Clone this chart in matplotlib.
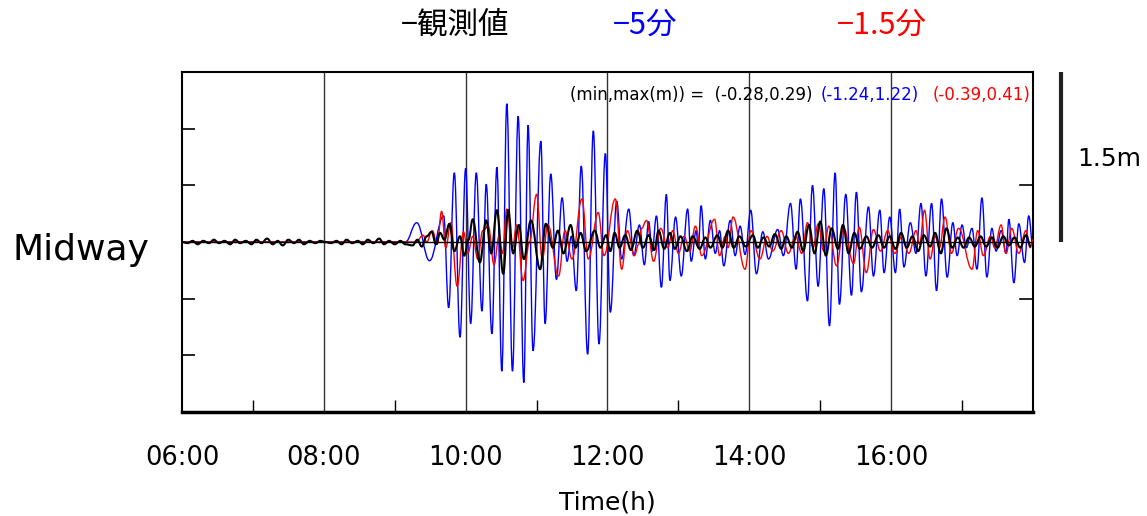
import matplotlib
matplotlib.use("Agg")
import matplotlib.pyplot as plt
from matplotlib.path import Path
from matplotlib.patches import PathPatch

# ---------------- data (time in hours, value in m) ----------------
station = "Midway"
legend_labels = ["−観測値", "−5分", "−1.5分"]
legend_colors = ["black", "#0000ff", "#ff0000"]
minmax_obs = (-0.28, 0.29)
minmax_5 = (-1.24, 1.22)
minmax_15 = (-0.39, 0.41)
xtick_hours = [6, 8, 10, 12, 14, 16]
xtick_labels = ["06:00", "08:00", "10:00", "12:00", "14:00", "16:00"]

obs_t = [6.0, 6.08, 6.15, 6.22, 6.3, 6.38, 6.45, 6.52, 6.6, 6.68, 6.75, 6.82, 6.9, 6.98,
         7.05, 7.12, 7.2, 7.28, 7.35, 7.42, 7.5, 7.58, 7.65, 7.72, 7.8, 7.88, 7.95, 8.02,
         8.1, 8.18, 8.25, 8.32, 8.4, 8.48, 8.55, 8.62, 8.7, 8.78, 8.85, 8.92, 9.0, 9.08,
         9.15, 9.25, 9.32, 9.38, 9.45, 9.52, 9.58, 9.64, 9.70, 9.77, 9.84, 9.92, 9.98,
         10.04, 10.10, 10.20, 10.29, 10.36, 10.44, 10.53, 10.60, 10.67, 10.75, 10.82,
         10.92, 11.05, 11.13, 11.23, 11.30, 11.38, 11.48, 11.55, 11.62, 11.70, 11.82,
         11.90, 11.98, 12.04, 12.10, 12.17, 12.25, 12.33, 12.42, 12.50, 12.58, 12.66,
         12.72, 12.80, 12.88, 12.95, 13.03, 13.12, 13.20, 13.30, 13.38, 13.45, 13.55,
         13.62, 13.70, 13.78, 13.86, 13.95, 14.05, 14.12, 14.20, 14.28, 14.36, 14.45,
         14.52, 14.60, 14.68, 14.76, 14.84, 14.92, 15.00, 15.08, 15.16, 15.25, 15.32,
         15.40, 15.48, 15.56, 15.65, 15.73, 15.82, 15.90, 15.98, 16.06, 16.14, 16.22,
         16.30, 16.38, 16.46, 16.55, 16.62, 16.70, 16.78, 16.86, 16.94, 17.02, 17.10,
         17.18, 17.26, 17.34, 17.42, 17.50, 17.58, 17.66, 17.74, 17.82, 17.90, 17.97]
obs_v = [0.0, -0.01, 0.01, -0.02, 0.01, -0.01, 0.02, -0.01, 0.01, -0.02, 0.02, -0.01, 0.01, -0.02,
         0.02, -0.01, 0.03, -0.02, 0.01, -0.03, 0.02, -0.01, 0.02, -0.02, 0.01, -0.01, 0.01, 0.0,
         -0.01, 0.01, -0.02, 0.02, -0.01, 0.01, -0.02, 0.02, -0.01, 0.03, -0.02, 0.01, -0.02, 0.01,
         -0.02, -0.03, 0.02, -0.04, 0.05, 0.09, -0.02, 0.08, 0.02, 0.16, -0.08, 0.05, -0.12,
         0.02, 0.20, -0.18, 0.19, -0.10, 0.28, -0.28, 0.28, -0.10, 0.15, -0.15,
         0.19, -0.24, 0.16, -0.05, 0.10, -0.10, 0.15, -0.05, 0.08, -0.08, 0.10,
         -0.05, 0.06, -0.08, 0.08, -0.05, 0.06, -0.07, 0.10, -0.05, 0.06, -0.07,
         0.10, -0.06, 0.08, -0.06, 0.05, -0.08, 0.05, -0.06, 0.04, -0.05, 0.06,
         -0.05, 0.10, -0.05, 0.05, -0.04, 0.06, -0.05, 0.04, -0.04, 0.07, -0.06,
         0.05, -0.05, 0.09, -0.08, 0.15, -0.10, 0.18, -0.12, 0.12, -0.06, 0.15,
         -0.10, 0.08, -0.06, 0.05, -0.05, 0.06, -0.05, 0.05, -0.06, 0.08, -0.05,
         0.05, -0.08, 0.06, -0.04, 0.08, -0.10, 0.12, -0.05, 0.04, -0.05, 0.04,
         -0.04, 0.05, -0.04, 0.04, -0.05, 0.05, -0.03, 0.04, -0.05, 0.06, -0.04]

m5_t = [6.0, 9.15, 9.31, 9.49, 9.69, 9.76, 9.84, 9.92, 10.0, 10.07, 10.15, 10.23, 10.29, 10.37,
        10.44, 10.51, 10.58, 10.66, 10.74, 10.82, 10.88, 10.95, 11.06, 11.12, 11.20, 11.28,
        11.36, 11.43, 11.49, 11.56, 11.63, 11.72, 11.80, 11.88, 11.97, 12.04, 12.13, 12.20,
        12.30, 12.37, 12.45, 12.52, 12.58, 12.63, 12.69, 12.76, 12.83, 12.88, 12.96, 13.04,
        13.13, 13.18, 13.25, 13.28, 13.32, 13.38, 13.45, 13.52, 13.58, 13.64, 13.73, 13.80,
        13.87, 13.94, 14.02, 14.10, 14.19, 14.27, 14.40, 14.48, 14.58, 14.66, 14.72, 14.82,
        14.89, 14.97, 15.05, 15.13, 15.21, 15.27, 15.36, 15.44, 15.51, 15.58, 15.68, 15.75,
        15.84, 15.90, 15.98, 16.06, 16.12, 16.18, 16.27, 16.35, 16.42, 16.49, 16.57, 16.64,
        16.71, 16.79, 16.87, 16.93, 17.0, 17.06, 17.14, 17.21, 17.28, 17.35, 17.42, 17.48,
        17.55, 17.62, 17.66, 17.73, 17.80, 17.88, 17.94, 18.0]
m5_v = [0.0, 0.0, 0.17, -0.165, 0.23, -0.58, 0.61, -0.84, 0.65, -0.72, 0.61, -0.61, 0.51, -0.81,
        0.66, -1.14, 1.22, -1.14, 1.11, -1.24, 1.03, -0.96, 0.89, -0.72, 0.60, -0.33,
        0.39, -0.17, 0.05, -0.43, 0.67, -0.99, 0.98, -0.90, 0.78, -0.62, 0.36, -0.15,
        0.29, -0.12, 0.15, -0.20, 0.18, -0.08, 0.23, -0.40, 0.42, -0.34, 0.22, -0.30,
        0.29, -0.17, 0.10, -0.05, 0.32, -0.15, 0.19, -0.10, 0.10, -0.21, 0.19, -0.12,
        0.14, -0.11, 0.28, -0.28, 0.09, -0.15, 0.11, -0.12, 0.34, -0.24, 0.38, -0.52,
        0.50, -0.39, 0.47, -0.74, 0.61, -0.55, 0.42, -0.47, 0.44, -0.44, 0.31, -0.30,
        0.28, -0.27, 0.22, -0.27, 0.29, -0.22, 0.17, -0.10, 0.34, -0.30, 0.34, -0.43,
        0.38, -0.31, 0.17, -0.12, 0.15, -0.05, 0.12, -0.24, 0.39, -0.31, 0.12, -0.08,
        0.10, -0.10, 0.20, -0.36, 0.16, -0.18, 0.23, -0.05]

m15_t = [6.0, 9.30, 9.40, 9.45, 9.53, 9.60, 9.66, 9.72, 9.79, 9.88, 9.97, 10.03, 10.10, 10.17,
         10.24, 10.32, 10.40, 10.47, 10.52, 10.58, 10.66, 10.72, 10.81, 10.90, 11.0, 11.08,
         11.16, 11.31, 11.40, 11.50, 11.64, 11.73, 11.87, 11.95, 12.11, 12.20, 12.28, 12.38,
         12.44, 12.48, 12.55, 12.65, 12.75, 12.85, 12.92, 13.0, 13.08, 13.16, 13.24,
         13.33, 13.51, 13.58, 13.66, 13.70, 13.77, 13.94, 14.02, 14.15, 14.25, 14.33, 14.45,
         14.55, 14.65, 14.74, 14.82, 14.90, 14.97, 15.05, 15.12, 15.23, 15.33, 15.47, 15.55,
         15.65, 15.75, 15.85, 15.95, 16.05, 16.15, 16.25, 16.35, 16.40, 16.47, 16.55, 16.62,
         16.68, 16.76, 16.85, 16.95, 17.14, 17.22, 17.30, 17.40, 17.46, 17.55, 17.62, 17.70,
         17.80, 17.90, 17.96, 18.0]
m15_v = [0.0, 0.0, 0.06, 0.0, 0.10, -0.02, 0.27, -0.05, 0.17, -0.39, 0.09, -0.10, 0.05, -0.15,
         0.10, 0.14, -0.20, 0.05, -0.10, 0.29, -0.05, 0.15, -0.34, 0.0, 0.42, -0.15,
         0.15, -0.30, 0.10, -0.15, 0.38, -0.15, 0.26, -0.12, 0.38, -0.24, 0.10, -0.12,
         -0.02, 0.12, 0.19, -0.17, 0.12, -0.05, 0.10, -0.10, 0.05, -0.08, 0.14,
         -0.12, 0.20, -0.12, 0.05, -0.05, 0.22, -0.24, 0.10, -0.15, 0.05, -0.08, 0.10,
         -0.10, 0.05, -0.10, 0.17, -0.05, 0.16, -0.08, 0.14, -0.21, 0.12, -0.19, 0.13,
         -0.27, 0.11, -0.08, 0.10, -0.10, 0.05, -0.10, 0.10, -0.02, 0.28, -0.15, 0.05,
         -0.05, 0.22, -0.10, 0.12, -0.24, 0.10, -0.12, 0.05, -0.05, 0.15, -0.10, 0.12,
         -0.10, 0.10, -0.05, 0.02]


def smooth_trace(ax, ts, vs, **kw):
    """Draw the trace through the read extrema as a Bezier path (flat tangents
    at each extremum), in data coordinates."""
    verts = [(ts[0], vs[0])]
    codes = [Path.MOVETO]
    for i in range(1, len(ts)):
        t0, v0, t1, v1 = ts[i - 1], vs[i - 1], ts[i], vs[i]
        dt = t1 - t0
        verts += [(t0 + 0.4 * dt, v0), (t1 - 0.4 * dt, v1), (t1, v1)]
        codes += [Path.CURVE4] * 3
    patch = PathPatch(Path(verts, codes), fill=False, transform=ax.transData, **kw)
    ax.add_patch(patch)
    return patch


# ---------------- figure ----------------
W, H = 1147, 516
fig = plt.figure(figsize=(W / 100, H / 100), dpi=100)
ax = fig.add_axes([182 / W, 1 - 412 / H, (1033 - 182) / W, (412 - 72) / H])

ax.set_xlim(6, 18)
ax.set_ylim(-1.5, 1.5)

for h in [8, 10, 12, 14, 16]:
    ax.axvline(h, color="#333333", lw=1.0, zorder=1)

smooth_trace(ax, m5_t, m5_v, edgecolor="#0000ff", lw=1.0, zorder=2)
smooth_trace(ax, m15_t, m15_v, edgecolor="#ff0000", lw=1.0, zorder=3)
smooth_trace(ax, obs_t, obs_v, edgecolor="black", lw=1.5, zorder=4)
ax.axhline(0, color="black", lw=1.0, zorder=5)

# ticks
ax.set_xticks(xtick_hours)
ax.set_xticklabels(xtick_labels, fontsize=18.5, family="DejaVu Sans")
ax.set_xticks([7, 9, 11, 13, 15, 17], minor=True)
ax.tick_params(axis="x", which="major", length=0, pad=24)
ax.tick_params(axis="x", which="minor", direction="in", length=9, width=1.0)
ax.set_yticks([-1.0, -0.5, 0.5, 1.0])
ax.set_yticklabels([])
ax.tick_params(axis="y", which="major", direction="in", length=9, width=1.2, left=True, right=False)
for yv in [-0.5, 0.5]:
    ax.plot([17.82, 18.0], [yv, yv], color="black", lw=1.2, clip_on=False, zorder=6)

for s in ax.spines.values():
    s.set_linewidth(1.5)
ax.spines["bottom"].set_linewidth(2.5)

ax.set_xlabel("Time(h)", fontsize=18, family="DejaVu Sans", labelpad=14)

# station name
fig.text(12 / W, 1 - 250 / H, station, fontsize=26, family="DejaVu Sans",
         ha="left", va="center")

# scale bar
ax.plot([18.395, 18.395], [0.0, 1.5], color="#222222", lw=3, clip_on=False,
        solid_capstyle="butt")
ax.text(18.62, 0.73, "1.5m", fontsize=18, family="DejaVu Sans", ha="left",
        va="center", clip_on=False)

# legend texts
cjk = ["Noto Sans CJK JP", "DejaVu Sans"]
for lbl, col, xc in zip(legend_labels, legend_colors, [455, 645, 882]):
    fig.text(xc / W, 1 - 25 / H, lbl, color=col, fontsize=22, family=cjk,
             ha="center", va="center")

# min/max annotation
fs = 12
yl = 1 - 95 / H
fig.text(812 / W, yl, "(min,max(m)) =  (%.2f,%.2f)" % minmax_obs, color="black",
         fontsize=fs, ha="right", va="center")
fig.text(919 / W, yl, "(%.2f,%.2f)" % minmax_5, color="#0000ff", fontsize=fs,
         ha="right", va="center")
fig.text(1030 / W, yl, "(%.2f,%.2f)" % minmax_15, color="#ff0000", fontsize=fs,
         ha="right", va="center")

fig.savefig("out.png", dpi=100)
